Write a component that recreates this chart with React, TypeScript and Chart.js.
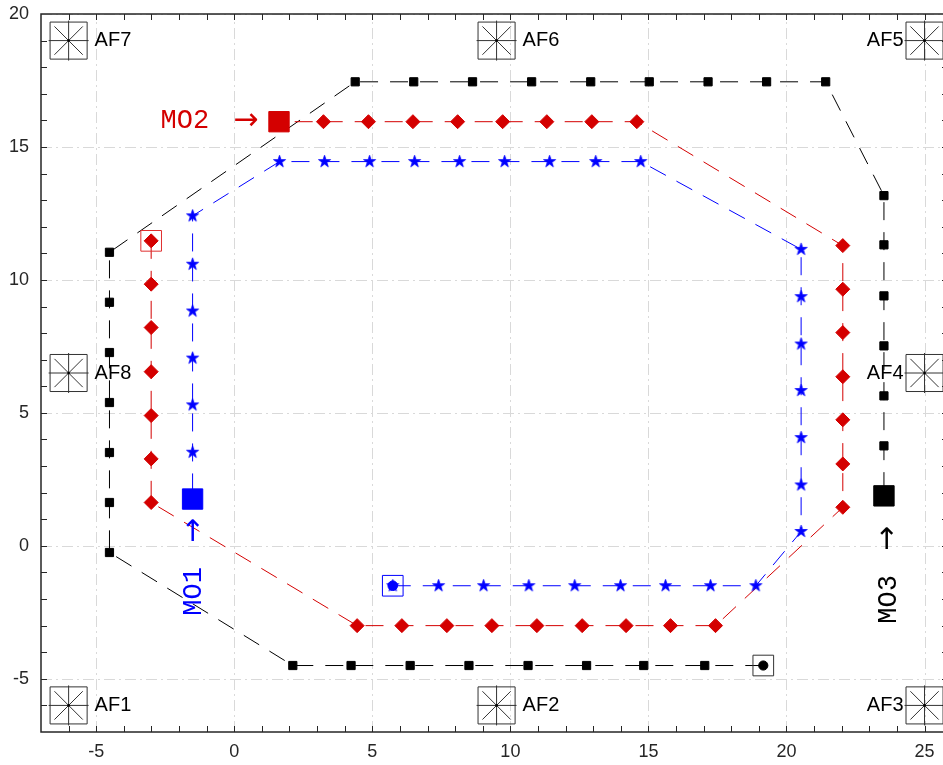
import React, { useEffect, useRef } from 'react';
import { Chart, registerables } from 'chart.js';

Chart.register(...registerables);

// ---- axes ----
const X_MIN = -7;
const X_MAX = 25.85;
const Y_MIN = -7;
const Y_MAX = 20;
const xTickLabels = [-5, 0, 5, 10, 15, 20, 25];
const yTickLabels = [-5, 0, 5, 10, 15, 20];

// ---- anchors AF1..AF8 ----
const afNames = ['AF1', 'AF2', 'AF3', 'AF4', 'AF5', 'AF6', 'AF7', 'AF8'];
const afX = [-6, 9.5, 25, 25, 25, 9.5, -6, -6];
const afY = [-6, -6, -6, 6.5, 19, 19, 19, 6.5];
const afLabelOnLeft = [false, false, true, true, true, false, false, false];

// ---- route of MO3 (black squares) ----
const blackX = [19.16, 17.04, 14.83, 12.76, 10.64, 8.5, 6.37, 4.23, 2.12, -4.52, -4.52, -4.52, -4.52, -4.52, -4.52, -4.52, 4.38, 6.5, 8.63, 10.77, 12.91, 15.03, 17.16, 19.28, 21.42, 23.53, 23.53, 23.53, 23.53, 23.53, 23.53, 23.53];
const blackY = [-4.5, -4.5, -4.5, -4.5, -4.5, -4.5, -4.5, -4.5, -4.5, -0.25, 1.63, 3.51, 5.39, 7.27, 9.16, 11.04, 17.45, 17.45, 17.45, 17.45, 17.45, 17.45, 17.45, 17.45, 17.45, 13.17, 11.32, 9.4, 7.52, 5.64, 3.76, 1.88];

// ---- route of MO2 (red diamonds) ----
const redX = [-3.01, -3.01, -3.01, -3.01, -3.01, -3.01, -3.01, 4.45, 6.07, 7.7, 9.33, 10.96, 12.6, 14.19, 15.8, 17.43, 22.04, 22.04, 22.04, 22.04, 22.04, 22.04, 22.04, 14.58, 12.95, 11.32, 9.72, 8.09, 6.47, 4.86, 3.23, 1.62];
const redY = [11.47, 9.84, 8.21, 6.55, 4.9, 3.27, 1.63, -3, -3, -3, -3, -3, -3, -3, -3, -3, 1.45, 3.08, 4.74, 6.36, 8.02, 9.65, 11.29, 15.95, 15.95, 15.95, 15.95, 15.95, 15.95, 15.95, 15.95, 15.95];

// ---- route of MO1 (blue stars) ----
const blueX = [5.74, 7.4, 9.03, 10.67, 12.33, 13.99, 15.62, 17.25, 18.89, 20.53, 20.53, 20.53, 20.53, 20.53, 20.53, 20.53, 14.72, 13.09, 11.42, 9.79, 8.16, 6.53, 4.9, 3.27, 1.64, -1.51, -1.51, -1.51, -1.51, -1.51, -1.51, -1.51];
const blueY = [-1.5, -1.5, -1.5, -1.5, -1.5, -1.5, -1.5, -1.5, -1.5, 0.54, 2.29, 4.07, 5.84, 7.59, 9.37, 11.15, 14.45, 14.45, 14.45, 14.45, 14.45, 14.45, 14.45, 14.45, 14.45, 12.41, 10.59, 8.83, 7.06, 5.3, 3.52, 1.76];

// ---- MO labels (arrow tip position) ----
const moNames = ['MO1', 'MO2', 'MO3'];
const moTipX = [-1.45, 0.87, 23.7];
const moTipY = [1.05, 15.98, 0.75];
const moVertical = [true, false, true];
const moColors = ['#0000ff', '#d40000', '#000000'];

const RED = '#d40000';
const BLUE = '#0000ff';
const TICK_FONT = '"Liberation Sans", Arial, Helvetica, sans-serif';

const pts = (xs: number[], ys: number[]) => xs.map((x, i) => ({ x, y: ys[i] }));
const last = (a: number[]) => a[a.length - 1];

function makeStar(color: string, R: number) {
  const r = R * 0.382;
  const size = Math.ceil(R * 2 + 2);
  const c = document.createElement('canvas');
  c.width = size;
  c.height = size;
  const g = c.getContext('2d')!;
  g.translate(size / 2, size / 2);
  g.beginPath();
  for (let i = 0; i < 10; i++) {
    const a = -Math.PI / 2 + (i * Math.PI) / 5;
    const rad = i % 2 === 0 ? R : r;
    const px = Math.cos(a) * rad;
    const py = Math.sin(a) * rad;
    if (i === 0) g.moveTo(px, py);
    else g.lineTo(px, py);
  }
  g.closePath();
  g.fillStyle = color;
  g.fill();
  g.strokeStyle = color;
  g.lineWidth = 0.8;
  g.stroke();
  return c;
}

const decor = {
  id: 'decor',
  beforeDatasetsDraw(chart: any) {
    const { ctx, chartArea, scales } = chart;
    const { left, right, top, bottom } = chartArea;
    const xs = scales.x;
    const ys = scales.y;
    ctx.save();
    ctx.strokeStyle = '#d9d9d9';
    ctx.lineWidth = 1;
    ctx.setLineDash([11, 4, 2, 4]);
    ctx.beginPath();
    for (const v of xTickLabels) {
      const px = Math.round(xs.getPixelForValue(v)) + 0.5;
      ctx.moveTo(px, bottom);
      ctx.lineTo(px, top);
    }
    for (const v of yTickLabels) {
      const py = Math.round(ys.getPixelForValue(v)) + 0.5;
      ctx.moveTo(left, py);
      ctx.lineTo(right, py);
    }
    ctx.stroke();
    ctx.restore();
  },
  afterDatasetsDraw(chart: any) {
    const { ctx, chartArea, scales } = chart;
    const { left, right, top, bottom } = chartArea;
    const xs = scales.x;
    const ys = scales.y;
    ctx.save();
    ctx.setLineDash([]);
    ctx.strokeStyle = '#262626';
    ctx.lineWidth = 1;
    ctx.beginPath();
    for (let v = Math.ceil(X_MIN); v <= X_MAX; v++) {
      const px = Math.round(xs.getPixelForValue(v)) + 0.5;
      if (px <= left + 1 || px >= right - 1) continue;
      ctx.moveTo(px, bottom);
      ctx.lineTo(px, bottom - 6);
      ctx.moveTo(px, top);
      ctx.lineTo(px, top + 6);
    }
    for (let v = Math.ceil(Y_MIN); v <= Y_MAX; v++) {
      const py = Math.round(ys.getPixelForValue(v)) + 0.5;
      if (py <= top + 1 || py >= bottom - 1) continue;
      ctx.moveTo(left, py);
      ctx.lineTo(left + 6, py);
      ctx.moveTo(right, py);
      ctx.lineTo(right - 6, py);
    }
    ctx.stroke();
    ctx.lineWidth = 1.5;
    ctx.strokeRect(Math.round(left), Math.round(top), Math.round(right - left), Math.round(bottom - top));

    // AF labels
    ctx.fillStyle = '#000000';
    ctx.font = `20px ${TICK_FONT}`;
    ctx.textBaseline = 'middle';
    afNames.forEach((name, i) => {
      const px = xs.getPixelForValue(afX[i]);
      const py = ys.getPixelForValue(afY[i]);
      if (afLabelOnLeft[i]) {
        ctx.textAlign = 'right';
        ctx.fillText(name, px - 21, py);
      } else {
        ctx.textAlign = 'left';
        ctx.fillText(name, px + 26, py);
      }
    });

    // MO labels with arrows
    moNames.forEach((name, i) => {
      const px = xs.getPixelForValue(moTipX[i]);
      const py = ys.getPixelForValue(moTipY[i]);
      ctx.save();
      ctx.translate(px, py);
      if (moVertical[i]) ctx.rotate(-Math.PI / 2);
      ctx.fillStyle = moColors[i];
      ctx.textBaseline = 'middle';
      ctx.textAlign = 'right';
      ctx.font = '30px "DejaVu Sans", sans-serif';
      ctx.fillText('\u2192', 0, 0);
      const aw = ctx.measureText('\u2192').width;
      ctx.font = '27px "Liberation Mono", "Courier New", monospace';
      ctx.fillText(name, -aw - 24, 0);
      ctx.restore();
    });
    ctx.restore();
  },
};

export default function App() {
  const ref = useRef<HTMLCanvasElement>(null);
  useEffect(() => {
    document.documentElement.style.overflow = 'hidden';
    const canvas = ref.current!;
    const star = makeStar(BLUE, 6.4);
    const blackRadius = blackX.map((_, i) => (i === 0 ? 0 : 5.8));

    const chart = new Chart(canvas, {
      type: 'scatter',
      data: {
        datasets: [
          // anchors
          {
            data: pts(afX, afY),
            pointStyle: 'rect',
            pointRadius: 26.2,
            backgroundColor: 'rgba(0,0,0,0)',
            borderColor: '#333333',
            borderWidth: 1,
            clip: false,
            order: 20,
          } as any,
          {
            data: pts(afX, afY),
            pointStyle: 'star',
            pointRadius: 20,
            backgroundColor: 'rgba(0,0,0,0)',
            borderColor: '#333333',
            borderWidth: 1,
            clip: false,
            order: 19,
          } as any,
          {
            data: pts(afX, afY),
            pointStyle: 'circle',
            pointRadius: 1.3,
            backgroundColor: '#000000',
            borderColor: '#000000',
            borderWidth: 0,
            clip: false,
            order: 18,
          } as any,
          // routes
          {
            data: pts(blackX, blackY),
            showLine: true,
            borderColor: '#000000',
            borderWidth: 1,
            borderDash: [18, 12],
            pointStyle: 'rect',
            pointRadius: blackRadius,
            pointBackgroundColor: '#000000',
            pointBorderColor: '#000000',
            pointBorderWidth: 1,
            order: 7,
          } as any,
          {
            data: pts(redX, redY),
            showLine: true,
            borderColor: RED,
            borderWidth: 1,
            borderDash: [18, 12],
            pointStyle: 'rectRot',
            pointRadius: 7,
            pointBackgroundColor: RED,
            pointBorderColor: RED,
            pointBorderWidth: 1,
            order: 6,
          } as any,
          {
            data: pts(blueX, blueY),
            showLine: true,
            borderColor: BLUE,
            borderWidth: 1,
            borderDash: [18, 12],
            pointStyle: star,
            pointRadius: 6,
            pointBackgroundColor: BLUE,
            pointBorderColor: BLUE,
            order: 5,
          } as any,
          // start markers
          {
            data: [{ x: blackX[0], y: blackY[0] }],
            pointStyle: 'circle',
            pointRadius: 4.6,
            backgroundColor: '#000000',
            borderColor: '#000000',
            borderWidth: 1,
            order: 4,
          } as any,
          {
            data: [{ x: blueX[0], y: blueY[0] }],
            pointStyle: 'circle',
            pointRadius: 4.8,
            backgroundColor: BLUE,
            borderColor: BLUE,
            borderWidth: 1,
            order: 6,
          } as any,
          {
            data: [{ x: blackX[0], y: blackY[0] }],
            pointStyle: 'rect',
            pointRadius: 14.6,
            backgroundColor: 'rgba(0,0,0,0)',
            borderColor: '#333333',
            borderWidth: 1,
            order: 3,
          } as any,
          {
            data: [{ x: redX[0], y: redY[0] }],
            pointStyle: 'rect',
            pointRadius: 14.6,
            backgroundColor: 'rgba(0,0,0,0)',
            borderColor: '#e03030',
            borderWidth: 1,
            order: 3,
          } as any,
          {
            data: [{ x: blueX[0], y: blueY[0] }],
            pointStyle: 'rect',
            pointRadius: 14.6,
            backgroundColor: 'rgba(0,0,0,0)',
            borderColor: BLUE,
            borderWidth: 1,
            order: 3,
          } as any,
          // current positions (MO1, MO2, MO3)
          {
            data: [{ x: last(blueX), y: last(blueY) }],
            pointStyle: 'rect',
            pointRadius: 14.4,
            backgroundColor: BLUE,
            borderColor: BLUE,
            borderWidth: 1,
            order: 1,
          } as any,
          {
            data: [{ x: last(redX), y: last(redY) }],
            pointStyle: 'rect',
            pointRadius: 14.4,
            backgroundColor: RED,
            borderColor: RED,
            borderWidth: 1,
            order: 1,
          } as any,
          {
            data: [{ x: last(blackX), y: last(blackY) }],
            pointStyle: 'rect',
            pointRadius: 14.4,
            backgroundColor: '#000000',
            borderColor: '#000000',
            borderWidth: 1,
            order: 1,
          } as any,
        ],
      },
      options: {
        animation: false,
        responsive: false,
        maintainAspectRatio: false,
        events: [],
        layout: { autoPadding: false, padding: { left: 0, right: 12, top: 14, bottom: 0 } },
        plugins: {
          legend: { display: false },
          tooltip: { enabled: false },
        },
        scales: {
          x: {
            type: 'linear',
            position: 'bottom',
            min: X_MIN,
            max: X_MAX,
            grid: { display: false, drawTicks: false },
            border: { display: false },
            ticks: {
              autoSkip: false,
              maxRotation: 0,
              padding: 9,
              color: '#262626',
              font: { family: TICK_FONT, size: 18 },
            },
            afterBuildTicks: (a: any) => {
              a.ticks = xTickLabels.map((v) => ({ value: v }));
            },
            afterFit: (a: any) => {
              a.height = 33;
              a.paddingLeft = 0;
              a.paddingRight = 0;
            },
          },
          y: {
            type: 'linear',
            position: 'left',
            min: Y_MIN,
            max: Y_MAX,
            grid: { display: false, drawTicks: false },
            border: { display: false },
            ticks: {
              autoSkip: false,
              padding: 12,
              color: '#262626',
              font: { family: TICK_FONT, size: 18 },
            },
            afterBuildTicks: (a: any) => {
              a.ticks = yTickLabels.map((v) => ({ value: v }));
            },
            afterFit: (a: any) => {
              a.width = 41;
              a.paddingTop = 0;
              a.paddingBottom = 0;
            },
          },
        },
      } as any,
      plugins: [decor],
    });
    return () => chart.destroy();
  }, []);

  return (
    <div style={{ position: 'absolute', left: 0, top: 0, width: 943, height: 765, overflow: 'hidden' }}>
      <canvas ref={ref} width={960} height={765} style={{ display: 'block' }} />
    </div>
  );
}
